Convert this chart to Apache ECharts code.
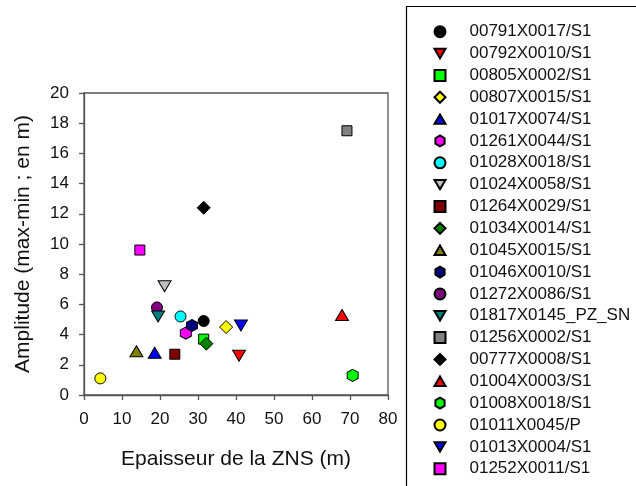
<!DOCTYPE html>
<html><head><meta charset="utf-8">
<script src="https://cdn.jsdelivr.net/npm/echarts@6/dist/echarts.min.js"></script>
<style>html,body{margin:0;padding:0;background:#fff}#c{width:636px;height:486px}</style>
</head><body><div id="c"></div>
<script>
// ---- data ----
const seriesNames = [
  '00791X0017/S1','00792X0010/S1','00805X0002/S1','00807X0015/S1','01017X0074/S1',
  '01261X0044/S1','01028X0018/S1','01024X0058/S1','01264X0029/S1','01034X0014/S1',
  '01045X0015/S1','01046X0010/S1','01272X0086/S1','01817X0145_PZ_SN','01256X0002/S1',
  '00777X0008/S1','01004X0003/S1','01008X0018/S1','01011X0045/P','01013X0004/S1',
  '01252X0011/S1'
];
const epaisseur = [31.5, 40.8, 31.5, 37.4, 18.6, 26.8, 25.4, 21.2, 23.9, 32.2,
                   13.8, 28.4, 19.2, 19.5, 69.2, 31.5, 67.9, 70.7, 4.3, 41.3, 14.7];
const amplitude = [4.9, 2.6, 3.7, 4.5, 2.8, 4.1, 5.2, 7.2, 2.7, 3.4,
                   2.9, 4.6, 5.8, 5.2, 17.5, 12.4, 5.3, 1.3, 1.1, 4.6, 9.6];
const xTickLabels = ['0','10','20','30','40','50','60','70','80'];
const yTickLabels = ['0','2','4','6','8','10','12','14','16','18','20'];

// ---- styles ----
const markerShapes = ['circle','down','square','diamond','up','hex','circle','down','square','diamond',
                      'up','hex','circle','down','square','diamond','up','hex','circle','down','square'];
const markerColors = ['#000000','#ff0000','#00ff00','#ffff00','#0000ff','#ff00ff','#00ffff','#c0c0c0','#800000','#008000',
                      '#808000','#000080','#800080','#008080','#808080','#000000','#ff0000','#00ff00','#ffff00','#0000ff','#ff00ff'];
const SHAPE = {
  circle: {symbol: 'circle', size: 11},
  square: {symbol: 'rect', size: 10},
  diamond: {symbol: 'diamond', size: [13, 13]},
  up: {symbol: 'path://M7,0L14,12L0,12Z', size: [13, 11]},
  down: {symbol: 'path://M0,0L14,0L7,12Z', size: [13, 11]},
  hex: {symbol: 'path://M5,0L10,3L10,9L5,12L0,9L0,3Z', size: [11, 12]}
};

const series = seriesNames.map((n, i) => ({
  name: n,
  type: 'scatter',
  data: [[epaisseur[i], amplitude[i]]],
  symbol: SHAPE[markerShapes[i]].symbol,
  symbolSize: SHAPE[markerShapes[i]].size,
  itemStyle: {color: markerColors[i], borderColor: '#000', borderWidth: 1, opacity: 1},
  emphasis: {disabled: true}
}));

const chart = echarts.init(document.getElementById('c'), null, {renderer: 'canvas'});
chart.setOption({
  animation: false,
  backgroundColor: '#fff',
  textStyle: {fontFamily: 'Liberation Sans, Arial, sans-serif'},
  grid: {left: 84, right: 248, top: 93, bottom: 91, show: true, borderColor: '#555', borderWidth: 1.3},
  xAxis: {
    type: 'value', min: 0, max: 80, interval: 10,
    name: 'Epaisseur de la ZNS (m)', nameLocation: 'middle', nameGap: 54,
    nameTextStyle: {fontSize: 21, color: '#111'},
    axisLine: {show: true, lineStyle: {color: '#555', width: 1.3}},
    axisTick: {show: true, inside: false, length: 5, lineStyle: {color: '#555', width: 1.3}},
    axisLabel: {fontSize: 17, color: '#111', margin: 16, formatter: v => xTickLabels[Math.round(v / 10)]},
    splitLine: {show: false}
  },
  yAxis: {
    type: 'value', min: 0, max: 20, interval: 2,
    name: 'Amplitude (max-min ; en m)', nameLocation: 'middle', nameGap: 50,
    nameTextStyle: {fontSize: 21, color: '#111'},
    axisLine: {show: true, lineStyle: {color: '#555', width: 1.3}},
    axisTick: {show: true, inside: false, length: 5, lineStyle: {color: '#555', width: 1.3}},
    axisLabel: {fontSize: 17, color: '#111', margin: 15, formatter: v => yTickLabels[Math.round(v / 2)]},
    splitLine: {show: false}
  },
  legend: {
    orient: 'vertical', left: 433.5, top: 21.7, padding: 0,
    itemWidth: 11, itemHeight: 11, itemGap: 1.85,
    selectedMode: false,
    data: seriesNames.map((n, i) => ({name: n, icon: SHAPE[markerShapes[i]].symbol})),
    textStyle: {fontSize: 17, color: '#111', lineHeight: 20, padding: [0, 0, 0, 19]}
  },
  graphic: [{
    type: 'rect', shape: {x: 406.5, y: 6.5, width: 300, height: 520},
    style: {fill: null, stroke: '#000', lineWidth: 1.2}, silent: true
  }],
  series: series
});
</script></body></html>
